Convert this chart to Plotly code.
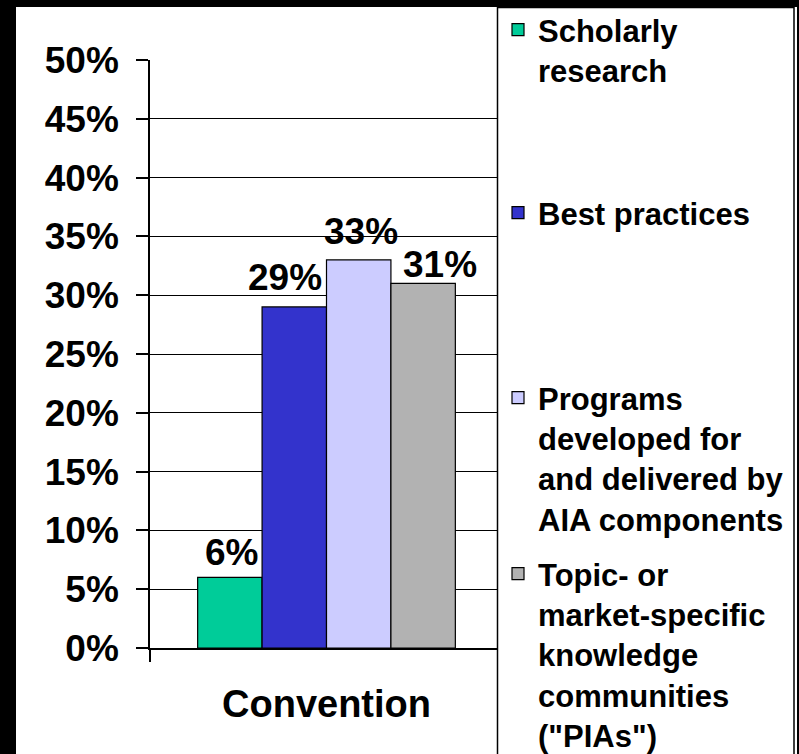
import plotly.graph_objects as go

# ---- data ----
categories = ["Convention"]
series_names = [
    "Scholarly<br>research",
    "Best practices",
    "Programs<br>developed for<br>and delivered by<br>AIA components",
    "Topic- or<br>market-specific<br>knowledge<br>communities<br>(\"PIAs\")",
]
scholarly_research = [0.06]
best_practices = [0.29]
programs_aia = [0.33]
topic_market_pias = [0.31]
y_tick_values = [0, 0.05, 0.10, 0.15, 0.20, 0.25, 0.30, 0.35, 0.40, 0.45, 0.50]

series_values = [scholarly_research, best_practices, programs_aia, topic_market_pias]
colors = ["#00CC99", "#3333CC", "#CCCCFF", "#B2B2B2"]
legend_ids = ["legend", "legend2", "legend3", "legend4"]

# label placement offsets (pixels) relative to category centre / bar top
label_xshift = [-95, -42, 34, 113]
label_yshift = [2, 7, 6, -4]

W, H = 799, 754
L, R, T, B = 150, 296, 60, 106
PW, PH = W - L - R, H - T - B
FONT = "Liberation Sans, Arial, sans-serif"


def px_x(px):
    return (px - L) / PW


def px_y(py):
    return (H - B - py) / PH


fig = go.Figure()
annotations = []
for i, (name, vals, col, lg) in enumerate(zip(series_names, series_values, colors, legend_ids)):
    fig.add_trace(go.Bar(
        x=categories, y=vals, name=name, legend=lg,
        marker=dict(color=col, line=dict(color="black", width=1.2)),
        hovertemplate="%{y:.0%}<extra></extra>",
    ))
    for cat, v in zip(categories, vals):
        annotations.append(dict(
            xref="x", yref="y", x=cat, y=v, text=f"{v:.0%}", showarrow=False,
            xanchor="center", yanchor="bottom",
            xshift=label_xshift[i], yshift=label_yshift[i],
            font=dict(family=FONT, size=37, color="black", weight="bold"),
        ))

legend_font = dict(family=FONT, size=31, color="black", weight="bold")
legend_tops = [3, 186, 371, 547]
legends = {}
for lg, top in zip(legend_ids, legend_tops):
    legends[lg] = dict(
        xref="container", yref="container", x=498 / W, xanchor="left",
        y=1 - top / H, yanchor="top", bgcolor="rgba(0,0,0,0)", borderwidth=0,
        font=legend_font, valign="top", itemclick=False, itemdoubleclick=False,
    )

fig.update_layout(
    width=W, height=H,
    margin=dict(l=L, r=R, t=T, b=B, pad=0, autoexpand=False),
    paper_bgcolor="black", plot_bgcolor="white",
    barmode="group", bargap=0.27, bargroupgap=0,
    showlegend=True,
    font=dict(family=FONT, color="black"),
    annotations=annotations,
    xaxis=dict(
        type="category", tickson="boundaries", ticks="outside", ticklen=12,
        tickwidth=1.5, tickcolor="black", showline=True, linecolor="black",
        linewidth=2, showgrid=False, zeroline=False, fixedrange=True,
        tickfont=dict(family=FONT, size=38, color="black", weight="bold"),
        ticklabelstandoff=21,
    ),
    yaxis=dict(
        range=[0, 0.5], tickvals=y_tick_values, tickformat=".0%",
        ticks="outside", ticklen=12, tickwidth=1.5, tickcolor="black",
        showline=True, linecolor="black", linewidth=1.5,
        showgrid=True, gridcolor="black", gridwidth=1, zeroline=False,
        fixedrange=True, ticklabelstandoff=10,
        tickfont=dict(family=FONT, size=37, color="black", weight="bold"),
    ),
    shapes=[
        dict(type="rect", xref="paper", yref="paper", layer="below",
             x0=px_x(16), x1=px_x(797), y0=px_y(7), y1=px_y(H + 10),
             fillcolor="white", line=dict(width=0)),
        dict(type="rect", xref="paper", yref="paper", layer="above",
             x0=px_x(497.5), x1=px_x(794), y0=px_y(7.5), y1=px_y(H + 10),
             fillcolor="white", line=dict(color="black", width=1.5)),
    ],
    **legends,
)

fig.write_html(
    "out.html",
    config={"displayModeBar": False},
    post_script="document.body.style.margin='0';",
)
